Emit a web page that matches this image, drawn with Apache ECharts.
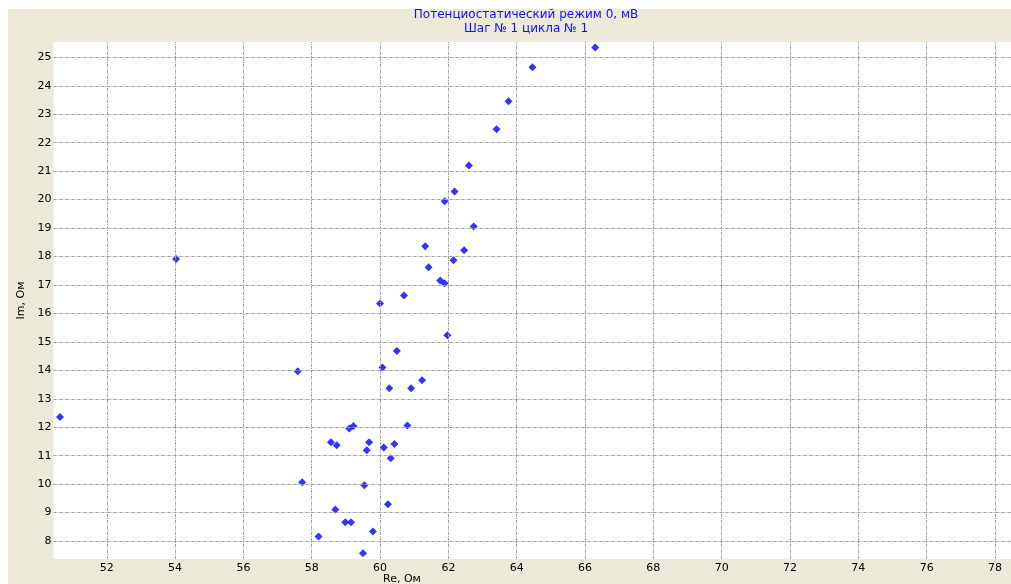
<!DOCTYPE html>
<html>
<head>
<meta charset="utf-8">
<script src="https://cdn.jsdelivr.net/npm/echarts@6/dist/echarts.min.js"></script>
<style>
  html, body { margin: 0; padding: 0; background: #ffffff; }
  #chart { width: 1011px; height: 584px; }
</style>
</head>
<body>
<div id="chart"></div>
<script>
// Impedance points: real part (Re, Ом) and imaginary part (Im, Ом)
const reValues = [
  50.63, 54.03, 57.59, 57.72, 58.20, 58.56, 58.73, 58.69, 58.98, 59.15,
  59.10, 59.22, 59.61, 59.68, 59.54, 59.50, 59.79, 60.11, 60.31, 60.42,
  60.23, 60.80, 60.00, 60.70, 61.42, 61.76, 61.89, 61.97, 60.49, 60.07,
  60.27, 60.91, 61.23, 62.15, 66.30, 64.46, 63.76, 63.41, 62.60, 62.18,
  61.89, 62.74, 61.32, 62.46
];
const imValues = [
  12.36, 17.91, 13.97, 10.07, 8.16, 11.47, 11.37, 9.11, 8.66, 8.66,
  11.96, 12.04, 11.19, 11.47, 9.96, 7.57, 8.34, 11.29, 10.91, 11.41,
  9.29, 12.06, 16.35, 16.63, 17.62, 17.16, 17.06, 15.23, 14.68, 14.10,
  13.37, 13.37, 13.65, 17.87, 25.35, 24.65, 23.46, 22.47, 21.20, 20.29,
  19.94, 19.06, 18.36, 18.22
];

// Visible axis extents
const reRange = [50.44, 78.47];
const imRange = [7.37, 25.54];

// Tick labels
const reTicks = [52, 54, 56, 58, 60, 62, 64, 66, 68, 70, 72, 74, 76, 78];
const imTicks = [8, 9, 10, 11, 12, 13, 14, 15, 16, 17, 18, 19, 20, 21, 22, 23, 24, 25];

const titleLines = ['Потенциостатический режим 0, мВ', 'Шаг № 1 цикла № 1'];
const xName = 'Re, Ом';
const yName = 'Im, Ом';

const points = reValues.map((re, i) => [re, imValues[i]]);

const FONT = 'DejaVu Sans';
const gridLine = { color: '#a0a0a0', width: 1, type: [3, 1, 1, 1] };

// Dotted grid through every labelled tick
const gridMarks = reTicks.map(v => ({ xAxis: v }))
  .concat(imTicks.map(v => ({ yAxis: v })));

const chart = echarts.init(document.getElementById('chart'), null, { renderer: 'canvas' });

chart.setOption({
  backgroundColor: '#ffffff',
  animation: false,
  graphic: [
    { type: 'rect', silent: true, z: -10,
      shape: { x: 8, y: 9, width: 1011 - 8, height: 584 - 9 },
      style: { fill: '#ECE9D8' } },
    { type: 'text', silent: true, left: 383, top: 574,
      style: { text: xName, font: '11px "' + FONT + '"', fill: '#000000', textAlign: 'center' } }
  ],
  title: {
    text: titleLines.join('\n'),
    left: 521,
    top: 3,
    textAlign: 'center',
    textStyle: { fontFamily: FONT, fontSize: 12, fontWeight: 'normal', color: '#1010ff', lineHeight: 14 }
  },
  grid: {
    left: 53.5, right: 0, top: 42, bottom: 25,
    show: true, backgroundColor: '#ffffff', borderWidth: 0
  },
  xAxis: {
    type: 'value',
    min: reRange[0], max: reRange[1],
    axisLine: { show: false },
    axisTick: { show: false, customValues: reTicks },
    axisLabel: {
      customValues: reTicks,
      fontFamily: FONT, fontSize: 11, color: '#000000', margin: 4
    },
    splitLine: { show: false }
  },
  yAxis: {
    type: 'value',
    min: imRange[0], max: imRange[1],
    name: yName,
    nameLocation: 'middle',
    nameGap: 26,
    nameRotate: 90,
    nameTextStyle: { fontFamily: FONT, fontSize: 11, color: '#000000' },
    axisLine: { show: false },
    axisTick: { show: false, customValues: imTicks },
    axisLabel: {
      customValues: imTicks,
      fontFamily: FONT, fontSize: 11, color: '#000000', margin: 2
    },
    splitLine: { show: false }
  },
  series: [
    {
      type: 'scatter',
      data: [],
      z: 1,
      silent: true,
      markLine: {
        silent: true,
        symbol: 'none',
        label: { show: false },
        lineStyle: gridLine,
        emphasis: { disabled: true },
        data: gridMarks
      }
    },
    {
      type: 'scatter',
      data: points,
      z: 3,
      symbol: 'diamond',
      symbolSize: 8,
      itemStyle: { color: '#0000ff' }
    }
  ]
});
</script>
</body>
</html>
